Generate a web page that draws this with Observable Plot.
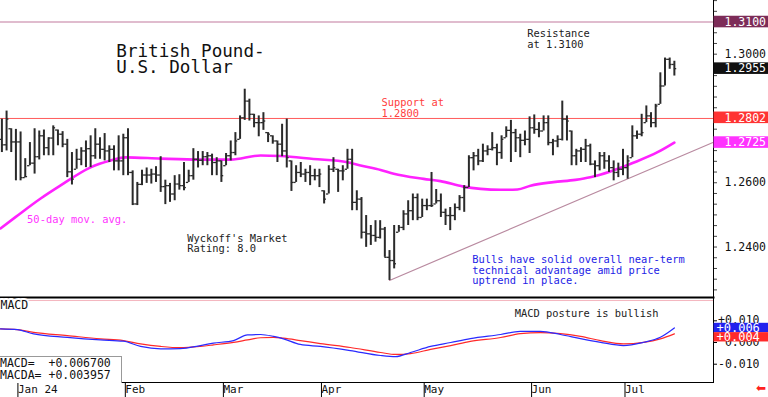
<!DOCTYPE html>
<html>
<head>
<meta charset="utf-8">
<script src="https://cdn.jsdelivr.net/npm/d3@7"></script>
<script src="https://cdn.jsdelivr.net/npm/@observablehq/plot@0.6"></script>
<style>
  body { margin: 0; background: #fff; }
  #chart { position: relative; width: 768px; height: 397px; overflow: hidden; background: #fff;
           font-family: "DejaVu Sans Mono", monospace; }
  #chart svg { position: absolute; left: 0; display: block; }
  #legend { position: absolute; left: 0; top: 356px; width: 121px; height: 25px; background: #fff;
            border-top: 1px solid #999; border-right: 1px solid #999; font-size: 11.5px; line-height: 11.6px;
            white-space: pre; color: #111; padding-top: 1px; box-sizing: content-box; }
  #arrow { position: absolute; left: 756px; top: 381px; color: #ff2020; font-size: 12px;
           font-family: "DejaVu Sans", sans-serif; }
</style>
</head>
<body>
<div id="chart"></div>
<script>
// ---------- DATA ----------
const firstTradingDay = "2023-12-27";
const high = [1.2798,1.2823,1.2768,1.2766,1.2758,1.2675,1.2725,1.2768,1.2761,1.2764,
1.2740,1.2777,1.2764,1.2759,1.2735,1.2694,1.2704,1.2709,1.2730,1.2746,
1.2768,1.2740,1.2753,1.2715,1.2715,1.2746,1.2751,1.2768,1.2637,1.2601,
1.2639,1.2646,1.2642,1.2650,1.2681,1.2608,1.2598,1.2622,1.2625,1.2663,
1.2639,1.2706,1.2697,1.2697,1.2694,1.2689,1.2678,1.2668,1.2691,1.2730,
1.2756,1.2808,1.2891,1.2860,1.2813,1.2808,1.2818,1.2756,1.2746,1.2730,
1.2782,1.2798,1.2668,1.2653,1.2663,1.2642,1.2653,1.2642,1.2642,1.2575,
1.2653,1.2678,1.2642,1.2653,1.2704,1.2704,1.2575,1.2554,1.2498,1.2467,
1.2482,1.2482,1.2461,1.2389,1.2467,1.2467,1.2513,1.2544,1.2565,1.2565,
1.2549,1.2549,1.2632,1.2579,1.2565,1.2518,1.2523,1.2534,1.2560,1.2591,
1.2684,1.2694,1.2704,1.2720,1.2715,1.2756,1.2720,1.2746,1.2774,1.2794,
1.2766,1.2751,1.2761,1.2805,1.2811,1.2787,1.2808,1.2808,1.2735,1.2746,
1.2854,1.2808,1.2761,1.2704,1.2709,1.2735,1.2720,1.2668,1.2694,1.2694,
1.2684,1.2668,1.2661,1.2704,1.2684,1.2777,1.2761,1.2813,1.2839,1.2818,
1.2844,1.2942,1.2988,1.2988,1.2978];
const low = [1.2694,1.2699,1.2694,1.2606,1.2606,1.2616,1.2653,1.2627,1.2671,1.2684,
1.2684,1.2684,1.2715,1.2709,1.2616,1.2593,1.2642,1.2653,1.2647,1.2647,
1.2673,1.2673,1.2668,1.2663,1.2637,1.2637,1.2622,1.2622,1.2529,1.2529,
1.2591,1.2598,1.2596,1.2601,1.2570,1.2532,1.2539,1.2544,1.2577,1.2575,
1.2601,1.2608,1.2646,1.2653,1.2653,1.2622,1.2622,1.2601,1.2653,1.2668,
1.2684,1.2735,1.2794,1.2792,1.2771,1.2743,1.2763,1.2725,1.2720,1.2663,
1.2681,1.2646,1.2573,1.2601,1.2616,1.2601,1.2591,1.2606,1.2585,1.2534,
1.2565,1.2632,1.2570,1.2606,1.2642,1.2513,1.2513,1.2425,1.2399,1.2405,
1.2415,1.2425,1.2368,1.2296,1.2332,1.2446,1.2451,1.2467,1.2482,1.2482,
1.2492,1.2513,1.2523,1.2534,1.2492,1.2467,1.2451,1.2482,1.2513,1.2508,
1.2585,1.2637,1.2653,1.2663,1.2684,1.2699,1.2653,1.2673,1.2740,1.2663,
1.2694,1.2678,1.2715,1.2691,1.2751,1.2740,1.2761,1.2715,1.2684,1.2709,
1.2730,1.2730,1.2653,1.2653,1.2663,1.2663,1.2653,1.2616,1.2637,1.2642,
1.2632,1.2606,1.2616,1.2622,1.2611,1.2678,1.2735,1.2743,1.2787,1.2771,
1.2771,1.2844,1.2901,1.2953,1.2932];
const open = [1.2735,1.2718,1.2768,1.2727,1.2727,1.2616,1.2653,1.2661,1.2681,1.2746,
1.2709,1.2739,1.2764,1.2751,1.2720,1.2634,1.2642,1.2673,1.2699,1.2706,
1.2684,1.2720,1.2704,1.2699,1.2704,1.2668,1.2668,1.2740,1.2632,1.2534,
1.2595,1.2624,1.2624,1.2627,1.2624,1.2588,1.2591,1.2565,1.2596,1.2591,
1.2601,1.2622,1.2673,1.2670,1.2681,1.2684,1.2663,1.2668,1.2653,1.2684,
1.2694,1.2735,1.2802,1.2854,1.2813,1.2787,1.2787,1.2756,1.2746,1.2730,
1.2720,1.2699,1.2668,1.2601,1.2632,1.2627,1.2632,1.2622,1.2622,1.2575,
1.2565,1.2642,1.2642,1.2637,1.2642,1.2673,1.2539,1.2549,1.2446,1.2441,
1.2436,1.2430,1.2456,1.2368,1.2358,1.2446,1.2461,1.2503,1.2513,1.2554,
1.2492,1.2529,1.2529,1.2534,1.2544,1.2508,1.2498,1.2498,1.2523,1.2554,
1.2585,1.2678,1.2684,1.2668,1.2699,1.2704,1.2709,1.2694,1.2740,1.2763,
1.2756,1.2740,1.2732,1.2735,1.2771,1.2766,1.2761,1.2787,1.2725,1.2730,
1.2735,1.2798,1.2761,1.2684,1.2699,1.2704,1.2715,1.2658,1.2653,1.2684,
1.2668,1.2647,1.2632,1.2642,1.2647,1.2678,1.2746,1.2751,1.2787,1.2808,
1.2787,1.2844,1.2901,1.2984,1.2968];
const close = [1.2718,1.2798,1.2727,1.2727,1.2616,1.2619,1.2661,1.2681,1.2746,1.2709,
1.2739,1.2771,1.2751,1.2720,1.2634,1.2611,1.2673,1.2699,1.2706,1.2684,
1.2720,1.2704,1.2699,1.2704,1.2668,1.2668,1.2740,1.2632,1.2534,1.2595,
1.2624,1.2624,1.2627,1.2624,1.2588,1.2591,1.2565,1.2596,1.2591,1.2585,
1.2622,1.2673,1.2670,1.2681,1.2684,1.2663,1.2668,1.2622,1.2684,1.2694,
1.2730,1.2802,1.2854,1.2813,1.2787,1.2787,1.2792,1.2751,1.2730,1.2720,
1.2699,1.2678,1.2601,1.2632,1.2627,1.2632,1.2622,1.2622,1.2627,1.2549,
1.2642,1.2647,1.2637,1.2637,1.2673,1.2539,1.2549,1.2446,1.2441,1.2436,
1.2430,1.2456,1.2368,1.2358,1.2348,1.2461,1.2503,1.2513,1.2554,1.2492,
1.2529,1.2529,1.2529,1.2544,1.2508,1.2498,1.2498,1.2523,1.2554,1.2585,
1.2678,1.2684,1.2668,1.2699,1.2704,1.2709,1.2694,1.2735,1.2763,1.2756,
1.2740,1.2732,1.2735,1.2771,1.2766,1.2761,1.2787,1.2725,1.2730,1.2735,
1.2798,1.2792,1.2684,1.2699,1.2704,1.2715,1.2658,1.2653,1.2684,1.2668,
1.2647,1.2632,1.2642,1.2647,1.2668,1.2746,1.2751,1.2756,1.2808,1.2787,
1.2839,1.2901,1.2984,1.2968,1.2955];

// 50-day moving average, read at sample bar positions
const maIdx = [-0.3,2.9,8.3,12.5,19.0,23.3,26.5,34.0,42.5,49.0,55.4,59.7,66.7,74.0,76.8,81.1,83.9,90.3,93.9,98.8,
102.5,106.8,110.4,113.2,118.1,122.8,126.0,130.3,135.2,140.4,144.0];
const maVal = [1.2458,1.2493,1.2551,1.2591,1.2648,1.2669,1.2679,1.2675,1.2672,1.2672,1.2685,1.2683,1.2674,1.2664,1.2654,1.2640,1.2628,1.2612,1.2605,1.2588,
1.2581,1.2578,1.2579,1.2591,1.2602,1.2609,1.2617,1.2635,1.2662,1.2695,1.2725];

// MACD and signal (MACDA), read at sample bar positions
const macdIdx = [-0.3,3.3,6.8,14.0,21.1,26.0,29.7,34.0,38.2,42.5,45.3,49.6,52.6,55.4,58.2,60.3,63.9,68.2,74.6,81.1,
84.3,87.5,91.8,96.1,100.3,106.8,111.0,115.3,119.6,123.9,128.2,133.1,137.4,141.0,144.0];
const macdVal = [0.0063,0.0059,0.0040,0.0024,0.0012,0.0006,-0.0018,-0.0029,-0.0028,-0.0014,-0.0003,0.0009,0.0035,0.0037,0.0028,0.0017,-0.0009,-0.0018,-0.0037,-0.0060,
-0.0065,-0.0046,-0.0018,0.0000,0.0018,0.0037,0.0051,0.0051,0.0037,0.0018,0.0001,-0.0014,0.0001,0.0024,0.0067];
const signalVal = [0.0063,0.0059,0.0047,0.0032,0.0017,0.0009,-0.0006,-0.0018,-0.0024,-0.0018,-0.0011,0.0001,0.0012,0.0022,0.0024,0.0020,0.0009,-0.0005,-0.0023,-0.0046,
-0.0055,-0.0051,-0.0032,-0.0014,0.0005,0.0023,0.0041,0.0046,0.0041,0.0028,0.0009,-0.0006,0.0001,0.0017,0.0040];
const macdLast = 0.006700;
const macdaLast = 0.003957;
const macdTagLabels = ["+0.006", "+0.004"];

// Uptrend line anchors (bar index, price)
const trendIdx = [83, 152.38];
const trendVal = [1.2296, 1.2726];

const resistanceLevel = 1.3100;
const supportLevel = 1.2800;
const priceTags = [1.3100, 1.2955, 1.2802, 1.2725];
const priceLabels = [1.24, 1.26, 1.28, 1.30];
const macdLabels = [-0.01, 0, 0.01];
const monthLabels = ["Jan 24", "Feb", "Mar", "Apr", "May", "Jun", "Jul"];

// ---------- BUILD ----------
const dates = [];
for (let d = new Date(firstTradingDay + "T00:00:00Z"); dates.length < close.length; d.setUTCDate(d.getUTCDate() + 1)) {
  const wd = d.getUTCDay();
  if (wd !== 0 && wd !== 6) dates.push(new Date(d));
}
const bars = close.map((c, i) => ({i, date: dates[i], open: open[i], high: high[i], low: low[i], close: c}));
const monthIdx = [];
dates.forEach((d, i) => { if (i > 0 && d.getUTCMonth() !== dates[i - 1].getUTCMonth()) monthIdx.push(i); });
const monthMap = new Map(monthIdx.map((m, k) => [m, monthLabels[k]]));
const maPts = maIdx.map((i, k) => ({i, v: maVal[k]}));
const macdPts = macdIdx.map((i, k) => ({i, macd: macdVal[k], signal: signalVal[k]}));
const trendPts = trendIdx.map((i, k) => ({i, v: trendVal[k]}));
const tagRows = priceTags.map((v, k) => ({v, k}));
const minorTicks = d3.range(0, 29).map(k => 1.24 + (k - 4) / 300);

const xDomain = [-0.3, 152.38];
const xEnd = xDomain[1];
const mono = "'DejaVu Sans Mono', monospace";
const ink = "#2a2a2a";
const tagFills = ["#7d2c58", "#111111", "#ff3333", "#ff33ff"];

const main = Plot.plot({
  width: 768, height: 298,
  marginLeft: 0, marginRight: 55, marginTop: 0, marginBottom: 1,
  x: {domain: xDomain, axis: null},
  y: {domain: [1.2243, 1.3167], axis: null, label: null},
  style: {fontFamily: mono, background: "transparent", overflow: "visible"},
  marks: [
    Plot.ruleY([resistanceLevel], {stroke: "#d6a6be", strokeWidth: 1.5}),
    Plot.ruleY([supportLevel], {stroke: "#ff5a5a", strokeWidth: 1}),
    Plot.line(trendPts, {x: "i", y: "v", stroke: "#b98aa0", strokeWidth: 1.2}),
    Plot.line(maPts, {x: "i", y: "v", stroke: "#ff22ff", strokeWidth: 2.6, curve: "monotone-x"}),
    Plot.ruleX(bars, {x: "i", y1: "low", y2: "high", stroke: ink, strokeWidth: 2}),
    Plot.ruleY(bars, {y: "open", x1: d => d.i - 0.5, x2: "i", stroke: ink, strokeWidth: 1.3}),
    Plot.ruleY(bars, {y: "close", x1: "i", x2: d => d.i + 0.5, stroke: ink, strokeWidth: 1.3}),
    Plot.frame({anchor: "bottom", strokeWidth: 2, stroke: "#000"}),
    Plot.frame({anchor: "right", strokeWidth: 1, stroke: "#000"}),
    Plot.axisY(minorTicks, {anchor: "right", tickSize: 3, tickFormat: () => "", label: null, stroke: "#444"}),
    Plot.axisY(priceLabels, {anchor: "right", tickSize: 0, tickPadding: 11, tickFormat: d3.format(".4f"),
      fontSize: 11.5, fill: "#111", label: null}),
    Plot.rect(tagRows, {x1: () => xEnd, x2: () => xEnd, insetRight: -55, insetLeft: 0.5,
      y1: d => d.v - 0.0018, y2: d => d.v + 0.0018, fill: d => tagFills[d.k]}),
    Plot.text(tagRows, {x: () => xEnd, y: "v", text: d => d3.format(".4f")(d.v), dx: 11, textAnchor: "start",
      fill: "white", fontSize: 11.5}),
    Plot.text(["British Pound-\nU.S. Dollar"], {x: 24.5, y: 1.3029, textAnchor: "start", lineAnchor: "top",
      fontSize: 17.6, lineHeight: 0.95, fill: "#111"}),
    Plot.text(["Resistance\nat 1.3100"], {x: 112.5, y: 1.3078, textAnchor: "start", lineAnchor: "top",
      fontSize: 10.4, lineHeight: 1.05, fill: "#222"}),
    Plot.text(["Support at\n1.2800"], {x: 81.3, y: 1.2864, textAnchor: "start", lineAnchor: "top",
      fontSize: 10.4, lineHeight: 1.05, fill: "#ff4040"}),
    Plot.text(["50-day mov. avg."], {x: 5.4, y: 1.2498, textAnchor: "start", lineAnchor: "top",
      fontSize: 10.4, fill: "#ff33ff"}),
    Plot.text(["Wyckoff's Market\nRating: 8.0"], {x: 39.7, y: 1.2439, textAnchor: "start", lineAnchor: "top",
      fontSize: 10.4, lineHeight: 1.0, fill: "#222"}),
    Plot.text(["Bulls have solid overall near-term\ntechnical advantage amid price\nuptrend in place."],
      {x: 100.7, y: 1.2375, textAnchor: "start", lineAnchor: "top", fontSize: 10.4, lineHeight: 1.04, fill: "#2323e6"})
  ]
});

const macdDomain = [-0.01843, 0.02028];
const fmtMacd = d => d === 0 ? "0.000" : d3.format("+.3f")(d).replace("\u2212", "-");
const tagH = 0.00215;
const blueC = macdLast;
const redC = Math.min(macdaLast, blueC - 2 * tagH);
const macdTags = [{v: blueC, label: macdTagLabels[0], fill: "#2222ee"},
                  {v: redC, label: macdTagLabels[1], fill: "#ff2a2a"}];

const macd = Plot.plot({
  width: 768, height: 99,
  marginLeft: 0, marginRight: 55, marginTop: 0, marginBottom: 15,
  x: {domain: xDomain, axis: null},
  y: {domain: macdDomain, axis: null, label: null},
  style: {fontFamily: mono, background: "transparent", overflow: "visible"},
  marks: [
    Plot.ruleY([0.01935], {stroke: "#f4b6bf", strokeWidth: 1}),
    Plot.line(macdPts, {x: "i", y: "signal", stroke: "#ff2a2a", strokeWidth: 1.2, curve: "monotone-x"}),
    Plot.line(macdPts, {x: "i", y: "macd", stroke: "#2a2aff", strokeWidth: 1.2, curve: "monotone-x"}),
    Plot.frame({anchor: "bottom", stroke: "#000"}),
    Plot.frame({anchor: "right", stroke: "#000"}),
    Plot.axisY(macdLabels, {anchor: "right", tickSize: 3, tickPadding: 43, textAnchor: "end",
      tickFormat: fmtMacd, fontSize: 11.5, fill: "#111", label: null}),
    Plot.rect(macdTags, {x1: () => xEnd, x2: () => xEnd, insetRight: -55, insetLeft: 0.5,
      y1: d => d.v - tagH, y2: d => d.v + tagH, fill: "fill"}),
    Plot.text(macdTags, {x: () => xEnd, y: "v", text: "label", dx: 3, textAnchor: "start",
      fill: "white", fontSize: 12}),
    Plot.text(["MACD"], {frameAnchor: "top-left", dy: 2, fontSize: 11.5, fill: "#111",
      stroke: "white", strokeWidth: 4}),
    Plot.text(["MACD posture is bullish"], {x: 109.8, y: 0.0150, textAnchor: "start", lineAnchor: "top",
      fontSize: 10.4, fill: "#222"}),
    Plot.axisX(monthIdx, {anchor: "bottom", tickSize: 15, tickPadding: -12, textAnchor: "start", dx: 2,
      tickFormat: d => monthMap.get(d), fontSize: 11, fill: "#111", label: null})
  ]
});

const chart = document.getElementById("chart");
main.style.top = "0px";
macd.style.top = "298px";
chart.appendChild(main);
chart.appendChild(macd);

const legend = document.createElement("div");
legend.id = "legend";
legend.textContent = "MACD=  " + d3.format("+.6f")(macdLast) + "\nMACDA= " + d3.format("+.6f")(macdaLast);
chart.appendChild(legend);

const arrow = document.createElement("div");
arrow.id = "arrow";
arrow.textContent = "\u2B05";
chart.appendChild(arrow);
</script>
</body>
</html>
